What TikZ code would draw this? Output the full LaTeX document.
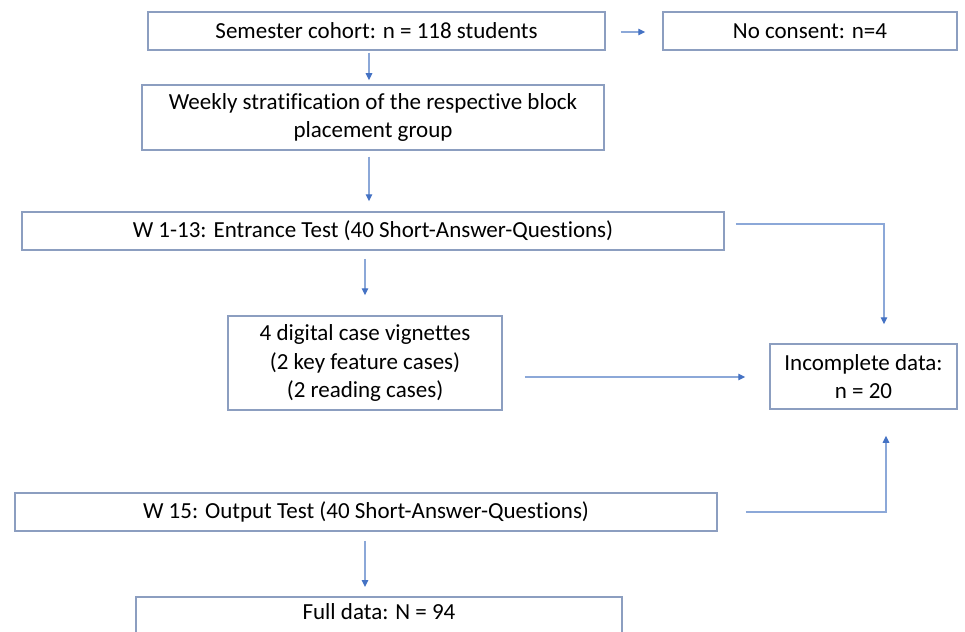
\documentclass[tikz,border=0pt]{standalone}
\usepackage{fontspec}
\setmainfont[Ligatures=NoCommon]{Carlito}
\usetikzlibrary{arrows.meta}
\definecolor{boxline}{RGB}{140,158,192}
\definecolor{arrline}{RGB}{140,168,216}
\definecolor{tipcol}{RGB}{68,114,196}
\begin{document}
\begin{tikzpicture}[x=1pt,y=-1pt,
  box/.style={draw=boxline,line width=1.5pt,fill=white,align=center,inner sep=0pt,
    font=\fontsize{23}{28.5}\selectfont},
  arr/.style={draw=arrline,line width=1.3pt,
    -{Triangle[length=7pt,width=6.5pt,color=tipcol,fill=tipcol]}}]
\useasboundingbox (0,0) rectangle (965,631);
\fill[white] (0,0) rectangle (965,631);

\node[box,minimum width=457,minimum height=38] (box1) at (376.5,31) {Semester cohort: n = 118 students};
\node[box,minimum width=294,minimum height=38] (box2) at (810,31) {No consent: n=4};
\node[box,minimum width=462,minimum height=65] (box3) at (373,117.5) {Weekly stratification of the respective block\\placement group};
\node[box,minimum width=702,minimum height=38] (box4) at (373,231) {W 1-13: Entrance Test (40 Short-Answer-Questions)};
\node[box,minimum width=274,minimum height=94] (box5) at (365,363) {4 digital case vignettes\\(2 key feature cases)\\(2 reading cases)};
\node[box,minimum width=187,minimum height=65] (box6) at (863.5,376.5) {Incomplete data:\\n = 20};
\node[box,minimum width=702,minimum height=38] (box7) at (366,512) {W 15: Output Test (40 Short-Answer-Questions)};
\node[box,anchor=north,minimum width=486,inner ysep=7pt,text height=16pt,text depth=45pt] (box8) at (379,596) {Full data: N = 94};

\coordinate (c1) at (884,224);
\coordinate (c2) at (886,512);

\draw[arr,shorten <=15pt,shorten >=17pt] ([yshift=-1]box1.east) -- ([yshift=-1]box2.west);
\draw[arr,shorten <=2pt,shorten >=4pt] ([xshift=-7.5]box1.south) -- ([xshift=-4]box3.north);
\draw[arr,shorten <=6pt,shorten >=10pt] ([xshift=-4]box3.south) -- ([xshift=-4]box4.north);
\draw[arr,shorten <=8pt,shorten >=20pt] ([xshift=-8]box4.south) -- (box5.north);
\draw[arr,shorten <=22pt,shorten >=24pt] ([yshift=-14]box5.east) -- ([yshift=-0.5]box6.west);
\draw[arr,shorten <=11pt,shorten >=19pt] ([yshift=7]box4.east) -- (c1) -- (c1 |- box6.north);
\draw[arr,shorten <=28pt,shorten >=26pt] (box7.east) -- (c2) -- (c2 |- box6.south);
\draw[arr,shorten <=9pt,shorten >=9pt] ([xshift=-1]box7.south) -- ([xshift=-14]box8.north);
\end{tikzpicture}
\end{document}
